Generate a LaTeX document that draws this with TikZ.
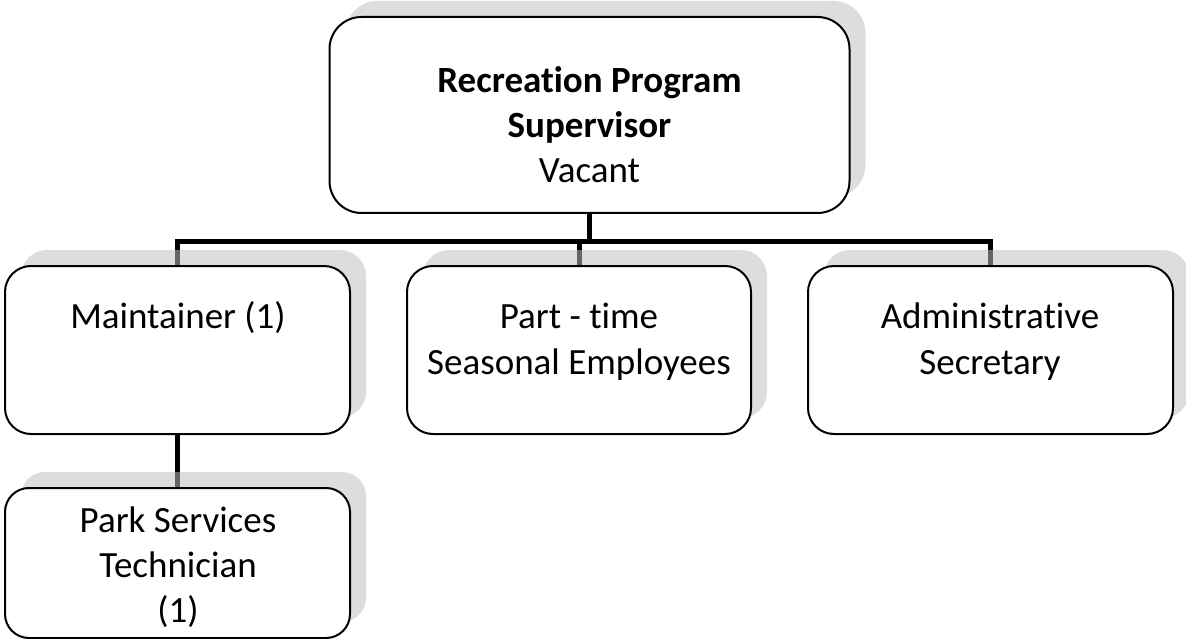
\documentclass[tikz,border=0pt]{standalone}
\usepackage{fontspec}
\setmainfont{Carlito}[Ligatures={NoCommon}]
\usetikzlibrary{shadows}
\pgfdeclarelayer{wires}
\pgfsetlayers{wires,main}
\begin{document}
\begin{tikzpicture}[x=1pt,y=-1pt,
  box/.style={draw=black, line width=2pt, fill=white, rounded corners=#1,
    outer sep=0pt, inner sep=0pt,
    drop shadow={shadow xshift=16pt, shadow yshift=16pt, fill=black!25, opacity=0.53}},
  box/.default=26pt,
  conn/.style={draw=black, line width=5pt, line join=miter},
  lbl/.style={anchor=base, inner sep=0pt, font=\fontsize{37}{45}\selectfont}]
\useasboundingbox (0,0) rectangle (1186,639);

% org chart boxes
\node[box=32pt, minimum width=520pt, minimum height=196pt] (sup)   at (589.5,115) {};
\node[box, minimum width=345pt, minimum height=168pt]     (maint) at (177.5,350) {};
\node[box, minimum width=344pt, minimum height=168pt]     (part)  at (579,350) {};
\node[box, minimum width=365pt, minimum height=168pt]     (admin) at (990.5,350) {};
\node[box=24pt, minimum width=345pt, minimum height=150pt] (tech) at (177.5,563) {};

% box texts
\node[lbl] (supA) at (589.5,93)  {\bfseries Recreation Program};
\node[lbl] (supB) at (589.5,138) {\bfseries Supervisor};
\node[lbl] (supC) at (589.5,183) {Vacant};
\node[lbl] (maintA) at (178,328) {Maintainer (1)};
\node[lbl] (partA) at (579,328) {Part - time};
\node[lbl] (partB) at (579,374) {Seasonal Employees};
\node[lbl] (adminA) at (990,328) {Administrative};
\node[lbl] (adminB) at (990,374) {Secretary};
\node[lbl] (techA) at (178,532) {Park Services};
\node[lbl] (techB) at (178,577) {Technician};
\node[lbl] (techC) at (178,622) {(1)};

% reporting lines, kept beneath the shadows
\coordinate (bus) at (0,242);
\begin{pgfonlayer}{wires}
  \draw[conn] (sup.south) -- (sup.south |- bus);
  \draw[conn] (maint.north) -- (maint.north |- bus) -- (admin.north |- bus) -- (admin.north);
  \draw[conn] (part.north |- bus) -- (part.north);
  \draw[conn] (maint.south) -- (tech.north);
\end{pgfonlayer}
\end{tikzpicture}
\end{document}
